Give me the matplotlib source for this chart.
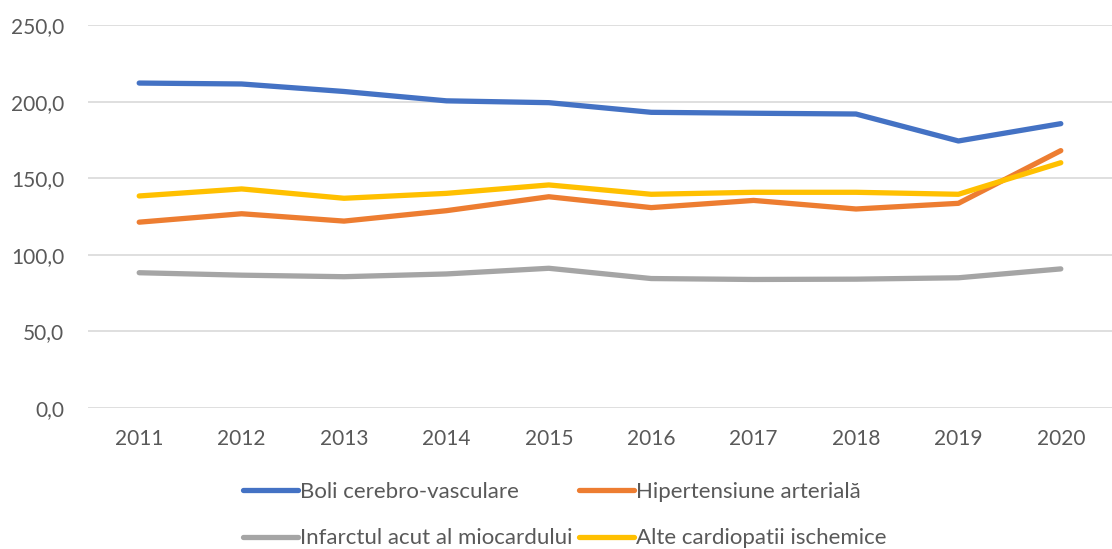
import numpy as np
import matplotlib.pyplot as plt

plt.rcParams['font.family'] = ['Lato', 'DejaVu Sans']

years = ['2011', '2012', '2013', '2014', '2015', '2016', '2017', '2018', '2019', '2020']
boli_cerebro = [212.1, 211.5, 206.6, 200.5, 199.3, 193.0, 192.4, 191.9, 174.3, 185.6]
hipertensiune = [121.3, 126.8, 122.0, 128.8, 137.9, 130.8, 135.5, 129.9, 133.6, 168.0]
infarct = [88.3, 86.7, 85.7, 87.5, 91.2, 84.5, 83.9, 84.1, 85.0, 90.8]
alte_cardio = [138.4, 143.0, 136.9, 140.1, 145.6, 139.5, 140.8, 140.8, 139.5, 160.1]

labels = ['Boli cerebro-vasculare', 'Hipertensiune arterială',
          'Infarctul acut al miocardului', 'Alte cardiopatii ischemice']
colors = ['#4472C4', '#ED7D31', '#A5A5A5', '#FFC000']
series = [boli_cerebro, hipertensiune, infarct, alte_cardio]

fig = plt.figure(figsize=(11.12, 5.49), dpi=100)
ax = fig.add_axes([88 / 1112, 141 / 549, 1024 / 1112, 383 / 549])

x = np.arange(len(years))
lines = []
for vals, c, lab in zip(series, colors, labels):
    ln, = ax.plot(x, vals, color=c, lw=3.8, solid_capstyle='round',
                  solid_joinstyle='round', label=lab, zorder=3)
    lines.append(ln)

ax.set_xlim(-0.5, 9.5)
ax.set_ylim(0, 250)
ax.set_yticks(np.arange(0, 251, 50))
ax.set_yticklabels([f'{v:.1f}'.replace('.', ',') for v in np.arange(0, 251, 50)])
ax.set_xticks(x)
ax.set_xticklabels(years)
ax.grid(axis='y', color='#D9D9D9', lw=1.2, zorder=0)
for s in ax.spines.values():
    s.set_visible(False)
ax.tick_params(length=0, labelsize=15, colors='#595959')
ax.tick_params(axis='y', pad=17)
ax.tick_params(axis='x', pad=15)

# legend filled column-wise, so reorder to get row-wise layout
order = [0, 2, 1, 3]
fig.legend(handles=[lines[i] for i in order], loc='center', ncol=2,
           bbox_to_anchor=(0.508, 0.062),
           frameon=False, fontsize=16, labelcolor='#595959',
           handlelength=2.45, handletextpad=0.1, columnspacing=0.3,
           labelspacing=1.2)

fig.savefig('out.png', dpi=100)
